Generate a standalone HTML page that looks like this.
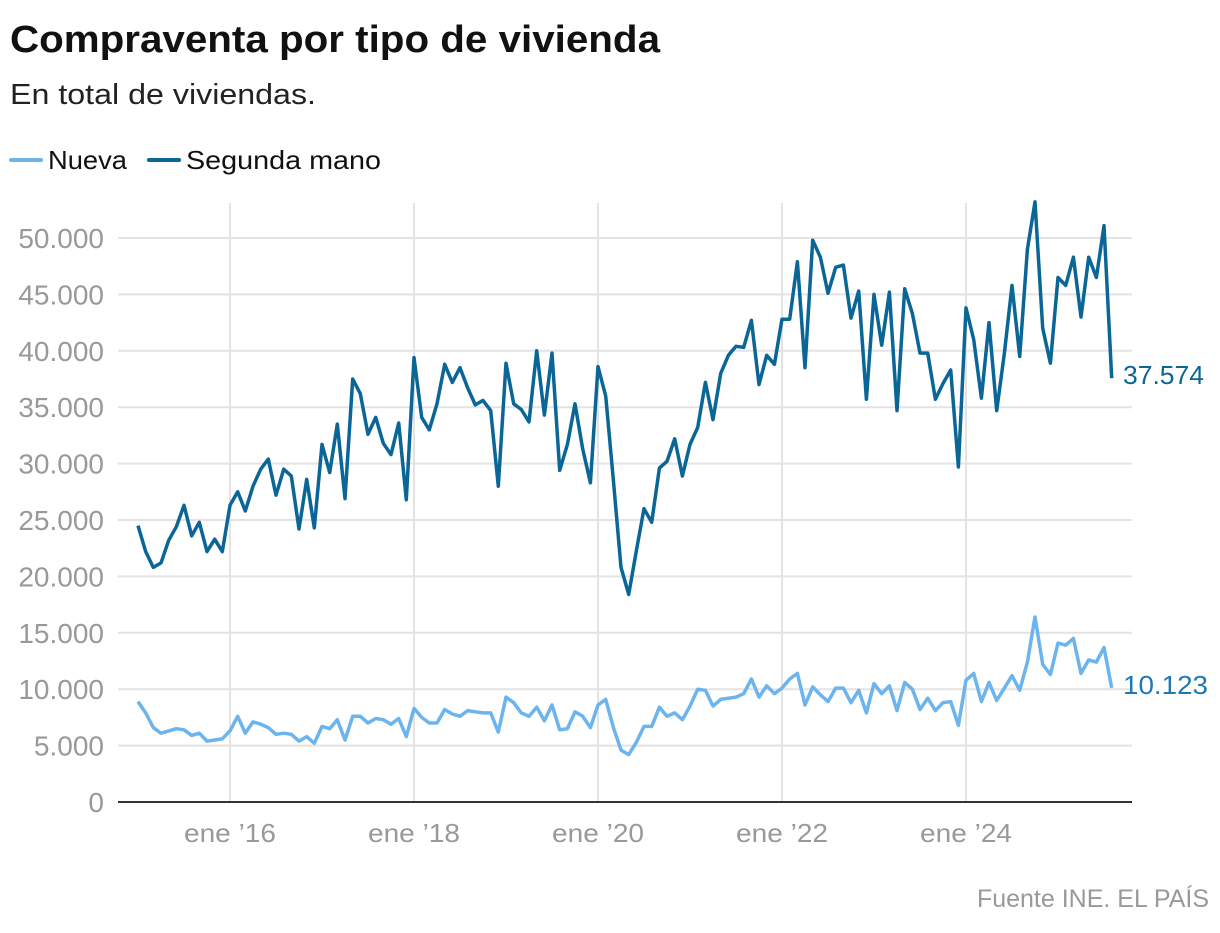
<!DOCTYPE html>
<html><head><meta charset="utf-8"><style>
body{margin:0;background:#fff;width:1220px;height:928px;overflow:hidden;font-family:"Liberation Sans",sans-serif}
</style></head><body>
<svg id="s" width="1220" height="928" xmlns="http://www.w3.org/2000/svg" font-family="Liberation Sans, sans-serif">
<text x="10" y="52" font-size="38" font-weight="bold" fill="#111" textLength="650" lengthAdjust="spacingAndGlyphs">Compraventa por tipo de vivienda</text>
<text x="10" y="104" font-size="29" fill="#222" textLength="306" lengthAdjust="spacingAndGlyphs">En total de viviendas.</text>
<line x1="11" y1="160" x2="41" y2="160" stroke="#6cb4ee" stroke-width="4" stroke-linecap="round"/>
<text x="48" y="169" font-size="26" fill="#111" textLength="79" lengthAdjust="spacingAndGlyphs">Nueva</text>
<line x1="149" y1="160" x2="179" y2="160" stroke="#0b6698" stroke-width="4" stroke-linecap="round"/>
<text x="186" y="169" font-size="26" fill="#111" textLength="195" lengthAdjust="spacingAndGlyphs">Segunda mano</text>
<g id="grid"></g>
<text x="1209" y="907" font-size="25" fill="#999" text-anchor="end">Fuente INE. EL PAÍS</text>
</svg>
<script>
var s=document.getElementById('grid'),ns="http://www.w3.org/2000/svg";
function el(t,a,txt){var e=document.createElementNS(ns,t);for(var k in a)e.setAttribute(k,a[k]);if(txt)e.textContent=txt;s.appendChild(e);return e;}
function Y(v){return 802-v*0.01128;}
function X(i){return 138+i*7.667;}
for(var v=5000;v<=50000;v+=5000){el('line',{x1:118,x2:1132,y1:Y(v),y2:Y(v),stroke:'#e3e3e3','stroke-width':2});}
var yrs=['16','18','20','22','24'];
for(var j=0;j<5;j++){var x=X(12+24*j);el('line',{x1:x,x2:x,y1:203,y2:802,stroke:'#e3e3e3','stroke-width':2});
el('text',{x:x,y:842,'font-size':26,fill:'#999','text-anchor':'middle',textLength:92,lengthAdjust:'spacingAndGlyphs'},'ene \u2019'+yrs[j]);}
for(var v=0;v<=50000;v+=5000){el('text',{x:104,y:Y(v)+10,'font-size':28,fill:'#999','text-anchor':'end'},v==0?'0':(v/1000)+'.000');}
el('line',{x1:118,x2:1132,y1:802,y2:802,stroke:'#333','stroke-width':2});
var sm=[24.5,22.2,20.8,21.2,23.2,24.4,26.3,23.6,24.8,22.2,23.3,22.2,
26.3,27.5,25.8,28.0,29.5,30.4,27.2,29.5,28.9,24.2,28.6,24.3,
31.7,29.2,33.5,26.9,37.5,36.2,32.6,34.1,31.8,30.8,33.6,26.8,
39.4,34.1,33.0,35.3,38.8,37.2,38.5,36.7,35.2,35.6,34.7,28.0,
38.9,35.3,34.8,33.7,40.0,34.3,39.8,29.4,31.7,35.3,31.3,28.3,
38.6,36.0,28.5,20.8,18.4,22.3,26.0,24.8,29.6,30.2,32.2,28.9,
31.7,33.2,37.2,33.9,38.0,39.6,40.4,40.3,42.7,37.0,39.6,38.8,
42.8,42.8,47.9,38.5,49.8,48.3,45.1,47.4,47.6,42.9,45.3,35.7,
45.0,40.5,45.2,34.7,45.5,43.3,39.8,39.8,35.7,37.1,38.3,29.7,
43.8,41.0,35.8,42.5,34.7,39.8,45.8,39.5,49.0,53.2,42.0,38.9,
46.5,45.8,48.3,43.0,48.3,46.5,51.1,37.574];
var nu=[8.9,7.9,6.6,6.1,6.3,6.5,6.4,5.9,6.1,5.4,5.5,5.6,
6.3,7.6,6.1,7.1,6.9,6.6,6.0,6.1,6.0,5.4,5.8,5.2,
6.7,6.5,7.3,5.5,7.6,7.6,7.0,7.4,7.3,6.9,7.4,5.8,
8.3,7.5,7.0,7.0,8.2,7.8,7.6,8.1,8.0,7.9,7.9,6.2,
9.3,8.8,7.9,7.6,8.4,7.2,8.6,6.4,6.5,8.0,7.6,6.6,
8.6,9.1,6.6,4.6,4.2,5.3,6.7,6.7,8.4,7.6,7.9,7.3,
8.5,10.0,9.9,8.5,9.1,9.2,9.3,9.6,10.9,9.3,10.3,9.6,
10.1,10.9,11.4,8.6,10.2,9.5,8.9,10.1,10.1,8.8,9.9,7.9,
10.5,9.6,10.3,8.1,10.6,10.0,8.2,9.2,8.1,8.8,8.9,6.8,
10.8,11.4,8.9,10.6,9.0,10.1,11.2,9.9,12.4,16.4,12.2,11.3,
14.1,13.9,14.5,11.4,12.6,12.4,13.7,10.123];
function pts(a){return a.map(function(v,i){return X(i).toFixed(1)+','+Y(v*1000).toFixed(1)}).join(' ');}
el('polyline',{points:pts(nu),fill:'none',stroke:'#6cb4ee','stroke-width':3.5,'stroke-linejoin':'round'});
el('polyline',{points:pts(sm),fill:'none',stroke:'#0b6698','stroke-width':3.5,'stroke-linejoin':'round'});
el('text',{x:1123,y:384,'font-size':26,fill:'#0b6698',textLength:81,lengthAdjust:'spacingAndGlyphs'},'37.574');
el('text',{x:1123,y:694,'font-size':26,fill:'#1f77b4',textLength:85,lengthAdjust:'spacingAndGlyphs'},'10.123');
</script>
</body></html>
